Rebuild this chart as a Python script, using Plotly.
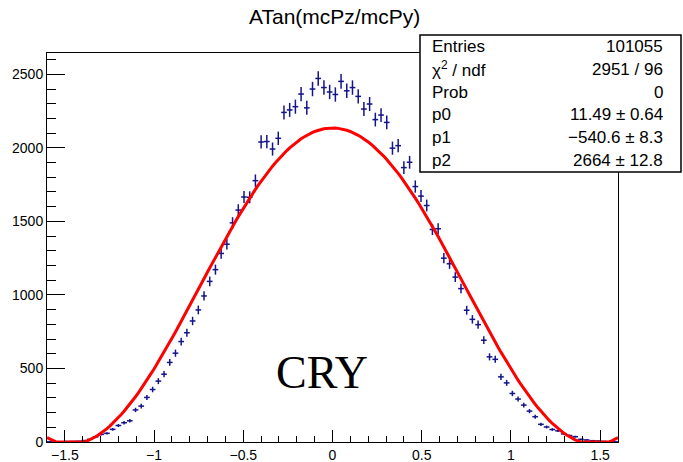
import numpy as np
import plotly.graph_objects as go

# ---------------- data ----------------
x_min, x_max, n_bins = -1.6, 1.6, 100
bin_counts = [
    1, 1, 2, 3, 4, 5, 10, 18, 35, 52,
    59, 86, 112, 131, 144, 218, 244, 303, 357, 414,
    461, 541, 604, 683, 743, 823, 898, 993, 1092, 1172,
    1282, 1345, 1490, 1577, 1666, 1664, 1777, 2040, 2043, 1992,
    2065, 2241, 2258, 2280, 2366, 2272, 2400, 2472, 2410, 2380,
    2363, 2452, 2388, 2410, 2350, 2264, 2298, 2192, 2223, 2173,
    1998, 2015, 1866, 1902, 1737, 1672, 1608, 1445, 1450, 1250,
    1212, 1121, 1043, 896, 834, 798, 692, 579, 562, 443,
    402, 330, 292, 251, 210, 172, 120, 102, 85, 76,
    55, 44, 36, 18, 14, 9, 7, 4, 2, 1,
]
# fit: p0 + p1*cos(x) + p2*cos(x)^2
fit_params = [11.49, -540.6, 2664.0]

title_text = "ATan(mcPz/mcPy)"
stats_labels = ["Entries", "χ<sup>2</sup> / ndf", "Prob", "p0", "p1", "p2"]
stats_values = ["101055", "2951 / 96", "0", "11.49 ± 0.64", "−540.6 ± 8.3", "2664 ± 12.8"]
x_ticks = [-1.5, -1, -0.5, 0, 0.5, 1, 1.5]
y_ticks = [0, 500, 1000, 1500, 2000, 2500]

# ---------------- derived ----------------
bw = (x_max - x_min) / n_bins
centers = x_min + bw * (np.arange(n_bins) + 0.5)
counts = np.array(bin_counts, dtype=float)
errs = np.sqrt(counts)

xf = np.linspace(x_min, x_max, 201)
c = np.cos(xf)
yf = fit_params[0] + fit_params[1] * c + fit_params[2] * c * c
yf = np.maximum(yf, 0)

navy = "rgb(20,20,140)"
fig = go.Figure()
fig.add_trace(go.Scatter(
    x=centers, y=counts, mode="markers",
    marker=dict(size=1, color=navy),
    error_y=dict(type="data", array=errs, width=0, thickness=1.5, color=navy),
    error_x=dict(type="constant", value=bw / 2, width=0, thickness=1.5, color=navy),
    showlegend=False, hoverinfo="skip",
))
fig.add_trace(go.Scatter(
    x=xf, y=yf, mode="lines",
    line=dict(color="#ff0000", width=3),
    showlegend=False, hoverinfo="skip",
))

W, H = 683, 462
L, R, T, B = 47, 65, 53, 20
pw, ph = W - L - R, H - T - B

def px2paper_x(p):
    return (p - L) / pw

def px2paper_y(p):
    return (H - B - p) / ph

font_main = "Liberation Sans, Arial, sans-serif"

fig.update_layout(
    width=W, height=H,
    margin=dict(l=L, r=R, t=T, b=B, pad=0, autoexpand=False),
    paper_bgcolor="white", plot_bgcolor="white",
    font=dict(family=font_main, color="black", size=14),
    xaxis=dict(
        range=[x_min, x_max], showgrid=False, zeroline=False, automargin=False,
        showline=True, linecolor="black", linewidth=1, mirror=True,
        ticks="inside", ticklen=12, tickwidth=1, tickcolor="black",
        tickvals=x_ticks, ticktext=[("−" if v < 0 else "") + f"{abs(v):g}" for v in x_ticks],
        minor=dict(dtick=0.1, tick0=0, ticklen=6, ticks="inside", tickcolor="black", showgrid=False),
        tickfont=dict(size=14),
    ),
    yaxis=dict(
        range=[0, 2645], showgrid=False, zeroline=False, automargin=False,
        showline=True, linecolor="black", linewidth=1, mirror=True,
        ticks="inside", ticklen=18, tickwidth=1, tickcolor="black",
        tickvals=y_ticks, ticktext=[str(v) for v in y_ticks],
        minor=dict(dtick=100, tick0=0, ticklen=9, ticks="inside", tickcolor="black", showgrid=False),
        tickfont=dict(size=14),
    ),
)

# title
fig.add_annotation(
    text=title_text, xref="paper", yref="paper",
    x=px2paper_x(334), y=px2paper_y(17), xanchor="center", yanchor="middle",
    showarrow=False, font=dict(size=21, family=font_main, color="black"),
)

# stats box
bx0, bx1, by0, by1 = 420, 681, 35, 172
fig.add_shape(
    type="rect", xref="paper", yref="paper",
    x0=px2paper_x(bx0), x1=px2paper_x(bx1), y0=px2paper_y(by1), y1=px2paper_y(by0),
    line=dict(color="black", width=1.5), fillcolor="white", layer="above",
)
row_h = (by1 - by0) / len(stats_labels)
for k, (lab, val) in enumerate(zip(stats_labels, stats_values)):
    yc = by0 + row_h * (k + 0.5)
    fig.add_annotation(
        text=lab, xref="paper", yref="paper", x=px2paper_x(430), y=px2paper_y(yc),
        xanchor="left", yanchor="middle", showarrow=False,
        font=dict(size=17, family=font_main, color="black"),
    )
    fig.add_annotation(
        text=val, xref="paper", yref="paper", x=px2paper_x(665), y=px2paper_y(yc),
        xanchor="right", yanchor="middle", showarrow=False,
        font=dict(size=17, family=font_main, color="black"),
    )

# CRY label
fig.add_annotation(
    text="CRY", xref="paper", yref="paper", x=px2paper_x(322), y=px2paper_y(372),
    xanchor="center", yanchor="middle", showarrow=False,
    font=dict(size=46, family="Liberation Serif, Times New Roman, serif", color="black"),
)

fig.write_html("out.html")
